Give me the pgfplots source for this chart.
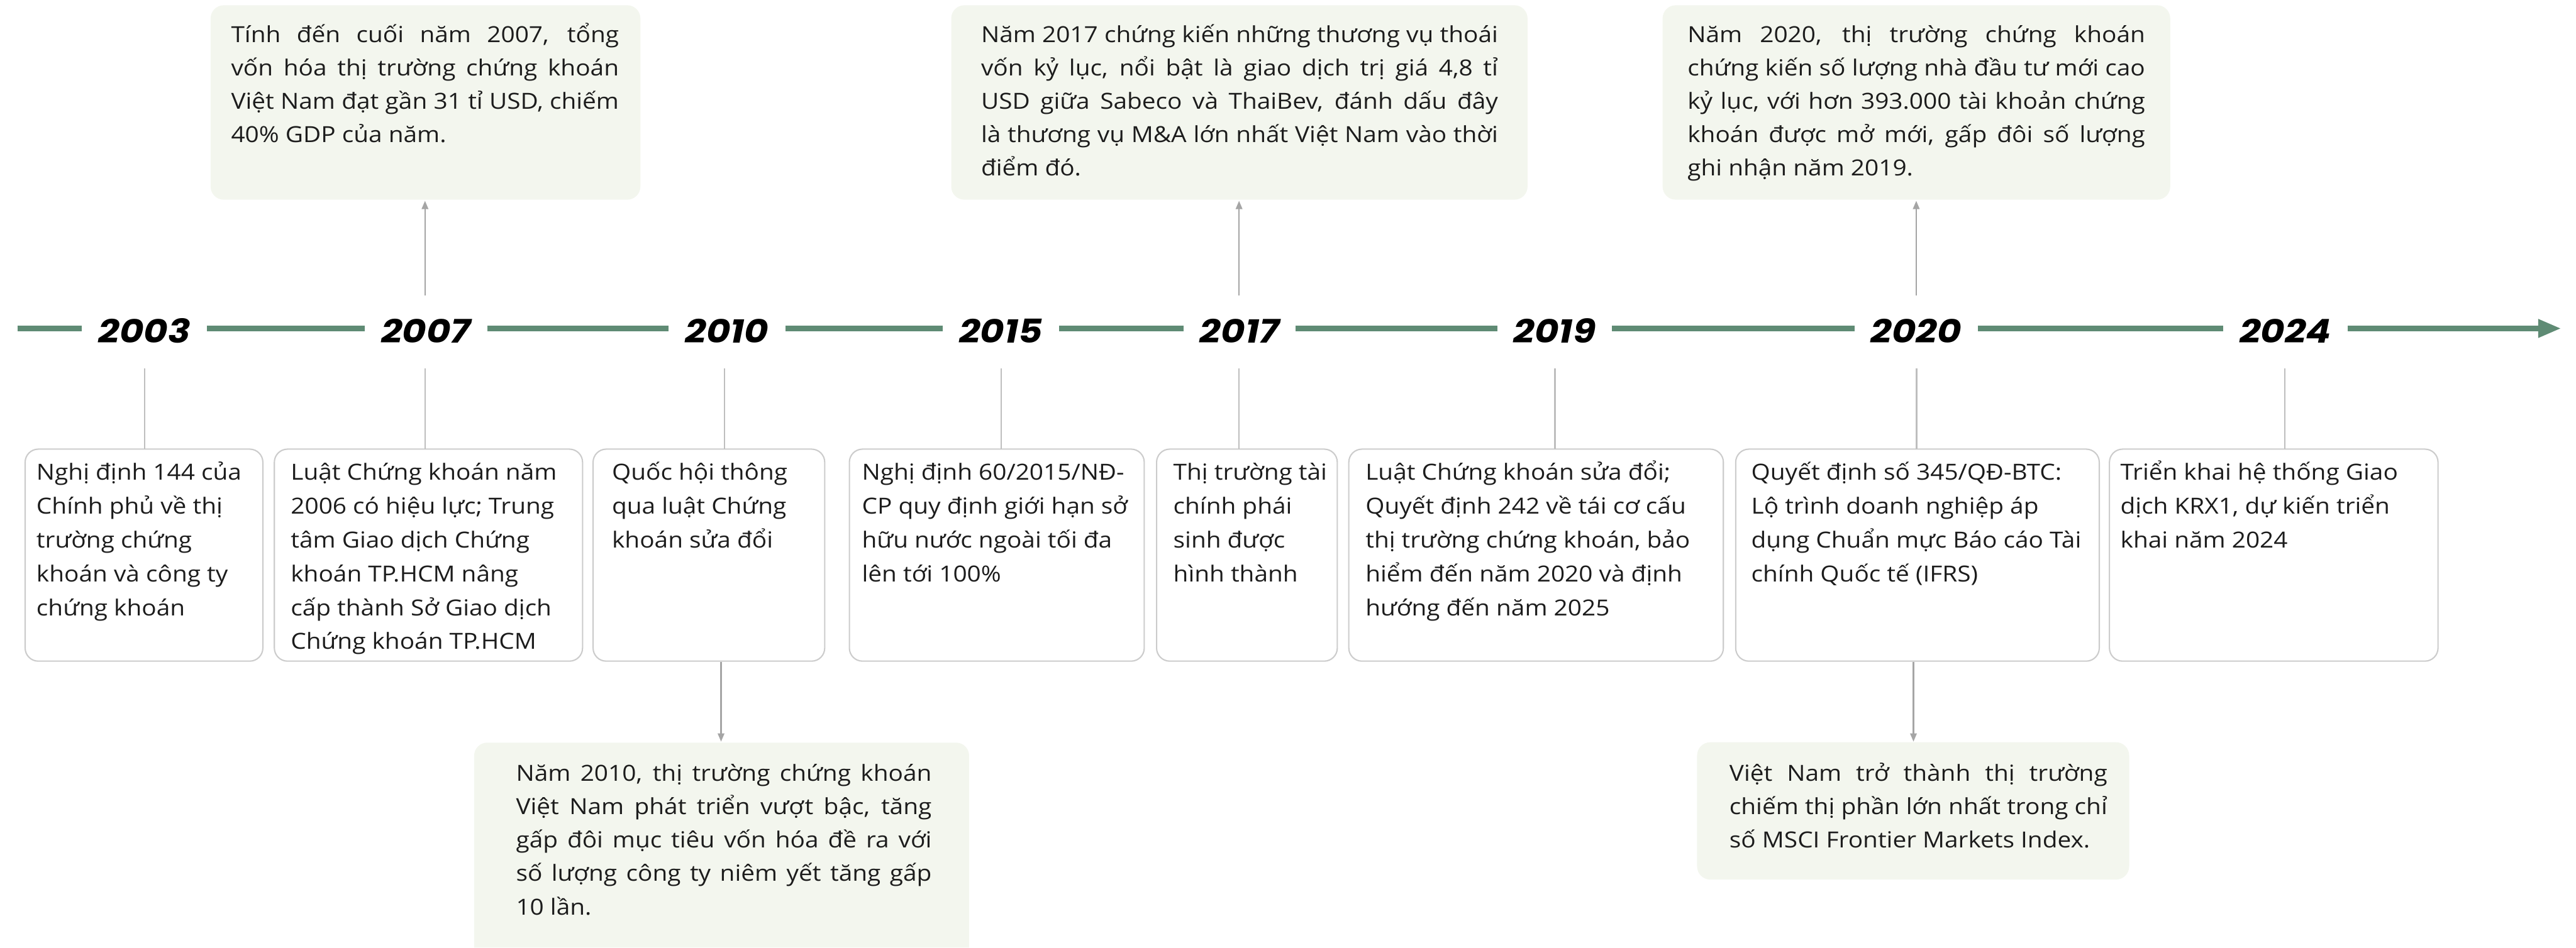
\documentclass[border=0pt]{standalone}
\usepackage{fontspec}
\setmainfont{Open Sans}[FakeStretch=1.1]
\newfontfamily\yearfont{Poppins}[FakeStretch=1.13]
\usepackage{pgfplots}
\pgfplotsset{compat=1.18}
\usetikzlibrary{arrows.meta}
\definecolor{tl}{RGB}{95,139,116}
\definecolor{boxfill}{RGB}{243,246,238}
\definecolor{boxline}{RGB}{204,204,204}
\definecolor{conn}{RGB}{190,190,190}
\definecolor{arr}{RGB}{165,165,165}
\definecolor{txt}{RGB}{28,28,28}
\newcommand\bodyA{\fontsize{13.5}{20.3}\selectfont}
\newcommand\bodyB{\fontsize{13.5}{20.6}\selectfont}
\newcommand\J[2]{\makebox[#1pt][s]{#2}\\}
\newcommand\yr{\yearfont\bfseries\itshape\fontsize{20}{21}\selectfont}
\tikzset{
  tb/.style={anchor=north west, inner sep=0pt, align=left, text=txt},
  yl/.style={fill=white, inner xsep=10pt, inner ysep=2pt, anchor=base, font=\yr, text=black},
}
\begin{document}
\begin{tikzpicture}
\begin{axis}[
  width=1568pt, height=577pt, scale only axis,
  xmin=0, xmax=1568, ymin=0, ymax=577, y dir=reverse,
  hide axis, clip=false,
]
\addplot[draw=none] coordinates {(0,0) (1568,577)};

% upper green boxes
\fill[boxfill, rounded corners=8pt] (axis cs:128.2,3.2) rectangle (axis cs:389.8,121.6);
\fill[boxfill, rounded corners=8pt] (axis cs:579,3.2) rectangle (axis cs:929.8,121.6);
\fill[boxfill, rounded corners=8pt] (axis cs:1012,3.2) rectangle (axis cs:1321,121.6);
% lower green boxes
\fill[boxfill] (axis cs:288.6,577) [rounded corners=8pt] -- (axis cs:288.6,452.2) -- (axis cs:589.9,452.2) [sharp corners] -- (axis cs:589.9,577) -- cycle;
\fill[boxfill, rounded corners=8pt] (axis cs:1033,452) rectangle (axis cs:1296,535.6);

% white boxes
\draw[boxline, line width=0.8pt, rounded corners=8pt] (axis cs:15.3,273.5) rectangle (axis cs:160,402.6);
\draw[boxline, line width=0.8pt, rounded corners=8pt] (axis cs:167,273.5) rectangle (axis cs:354.6,402.6);
\draw[boxline, line width=0.8pt, rounded corners=8pt] (axis cs:361,273.5) rectangle (axis cs:502,402.6);
\draw[boxline, line width=0.8pt, rounded corners=8pt] (axis cs:517,273.5) rectangle (axis cs:696.5,402.6);
\draw[boxline, line width=0.8pt, rounded corners=8pt] (axis cs:704,273.5) rectangle (axis cs:814,402.6);
\draw[boxline, line width=0.8pt, rounded corners=8pt] (axis cs:821,273.5) rectangle (axis cs:1049,402.6);
\draw[boxline, line width=0.8pt, rounded corners=8pt] (axis cs:1056.5,273.5) rectangle (axis cs:1277.8,402.6);
\draw[boxline, line width=0.8pt, rounded corners=8pt] (axis cs:1284,273.5) rectangle (axis cs:1484,402.6);

% connectors below the timeline
\addplot[conn, line width=0.8pt] coordinates {(87.9,224.4) (87.9,273.5)};
\addplot[conn, line width=0.8pt] coordinates {(258.8,224.4) (258.8,273.5)};
\addplot[conn, line width=0.8pt] coordinates {(441,224.4) (441,273.5)};
\addplot[conn, line width=0.8pt] coordinates {(609.6,224.4) (609.6,273.5)};
\addplot[conn, line width=0.8pt] coordinates {(754.2,224.4) (754.2,273.5)};
\addplot[conn, line width=0.8pt] coordinates {(946.5,224.4) (946.5,273.5)};
\addplot[conn, line width=0.8pt] coordinates {(1166.6,224.4) (1166.6,273.5)};
\addplot[conn, line width=0.8pt] coordinates {(1390.8,224.4) (1390.8,273.5)};

% arrows to the green boxes
\addplot[arr, line width=0.8pt, -{Triangle[length=5pt,width=4pt]}] coordinates {(258.7,180) (258.7,122.3)};
\addplot[arr, line width=0.8pt, -{Triangle[length=5pt,width=4pt]}] coordinates {(754.2,180) (754.2,122.3)};
\addplot[arr, line width=0.8pt, -{Triangle[length=5pt,width=4pt]}] coordinates {(1166.4,180) (1166.4,122.3)};
\addplot[arr, line width=0.8pt, -{Triangle[length=5pt,width=4pt]}] coordinates {(438.9,403) (438.9,451.6)};
\addplot[arr, line width=0.8pt, -{Triangle[length=5pt,width=4pt]}] coordinates {(1164.7,403) (1164.7,451.6)};

% timeline
\addplot[tl, line width=3.4pt, -{Triangle[length=14pt,width=10.5pt]}] coordinates {(10.6,200) (1559,200)};

% years
\node[yl] at (axis cs:87.9,208.7) {2003};
\node[yl] at (axis cs:259.3,208.7) {2007};
\node[yl] at (axis cs:442.5,208.7) {2010};
\node[yl] at (axis cs:609.3,208.7) {2015};
\node[yl] at (axis cs:754.5,208.7) {2017};
\node[yl] at (axis cs:946.3,208.7) {2019};
\node[yl] at (axis cs:1166.4,208.7) {2020};
\node[yl] at (axis cs:1391.1,208.7) {2024};

% upper texts
\node[tb, font=\bodyA] at (axis cs:140.5,11.5) {\rule{0pt}{14pt}\J{236}{Tính đến cuối năm 2007, tổng}\J{236}{vốn hóa thị trường chứng khoán}\J{236}{Việt Nam đạt gần 31 tỉ USD, chiếm}40\% GDP của năm.};
\node[tb, font=\bodyA] at (axis cs:597,11.5) {\rule{0pt}{14pt}\J{314.6}{Năm 2017 chứng kiến những thương vụ thoái}\J{314.6}{vốn kỷ lục, nổi bật là giao dịch trị giá 4,8 tỉ}\J{314.6}{USD giữa Sabeco và ThaiBev, đánh dấu đây}\J{314.6}{là thương vụ M\&A lớn nhất Việt Nam vào thời}điểm đó.};
\node[tb, font=\bodyA] at (axis cs:1027,11.5) {\rule{0pt}{14pt}\J{278.5}{Năm 2020, thị trường chứng khoán}\J{278.5}{chứng kiến số lượng nhà đầu tư mới cao}\J{278.5}{kỷ lục, với hơn 393.000 tài khoản chứng}\J{278.5}{khoán được mở mới, gấp đôi số lượng}ghi nhận năm 2019.};

% lower green texts
\node[tb, font=\bodyA] at (axis cs:313.9,461.6) {\rule{0pt}{14pt}\J{253}{Năm 2010, thị trường chứng khoán}\J{253}{Việt Nam phát triển vượt bậc, tăng}\J{253}{gấp đôi mục tiêu vốn hóa đề ra với}\J{253}{số lượng công ty niêm yết tăng gấp}10 lần.};
\node[tb, font=\bodyA] at (axis cs:1052.5,461.6) {\rule{0pt}{14pt}\J{230}{Việt Nam trở thành thị trường}\J{230}{chiếm thị phần lớn nhất trong chỉ}số MSCI Frontier Markets Index.};

% white box texts
\node[tb, font=\bodyB] at (axis cs:22,278.2) {\rule{0pt}{14pt}Nghị định 144 của\\Chính phủ về thị\\trường chứng\\khoán và công ty\\chứng khoán};
\node[tb, font=\bodyB] at (axis cs:176.8,278.2) {\rule{0pt}{14pt}Luật Chứng khoán năm\\2006 có hiệu lực; Trung\\tâm Giao dịch Chứng\\khoán TP.HCM nâng\\cấp thành Sở Giao dịch\\Chứng khoán TP.HCM};
\node[tb, font=\bodyB] at (axis cs:372.3,278.2) {\rule{0pt}{14pt}Quốc hội thông\\qua luật Chứng\\khoán sửa đổi};
\node[tb, font=\bodyB] at (axis cs:524.5,278.2) {\rule{0pt}{14pt}Nghị định 60/2015/NĐ-\\CP quy định giới hạn sở\\hữu nước ngoài tối đa\\lên tới 100\%};
\node[tb, font=\bodyB] at (axis cs:714,278.2) {\rule{0pt}{14pt}Thị trường tài\\chính phái\\sinh được\\hình thành};
\node[tb, font=\bodyB] at (axis cs:831,278.2) {\rule{0pt}{14pt}Luật Chứng khoán sửa đổi;\\Quyết định 242 về tái cơ cấu\\thị trường chứng khoán, bảo\\hiểm đến năm 2020 và định\\hướng đến năm 2025};
\node[tb, font=\bodyB] at (axis cs:1065.8,278.2) {\rule{0pt}{14pt}Quyết định số 345/QĐ-BTC:\\Lộ trình doanh nghiệp áp\\dụng Chuẩn mực Báo cáo Tài\\chính Quốc tế (IFRS)};
\node[tb, font=\bodyB] at (axis cs:1290.5,278.2) {\rule{0pt}{14pt}Triển khai hệ thống Giao\\dịch KRX1, dự kiến triển\\khai năm 2024};
\end{axis}
\end{tikzpicture}
\end{document}
